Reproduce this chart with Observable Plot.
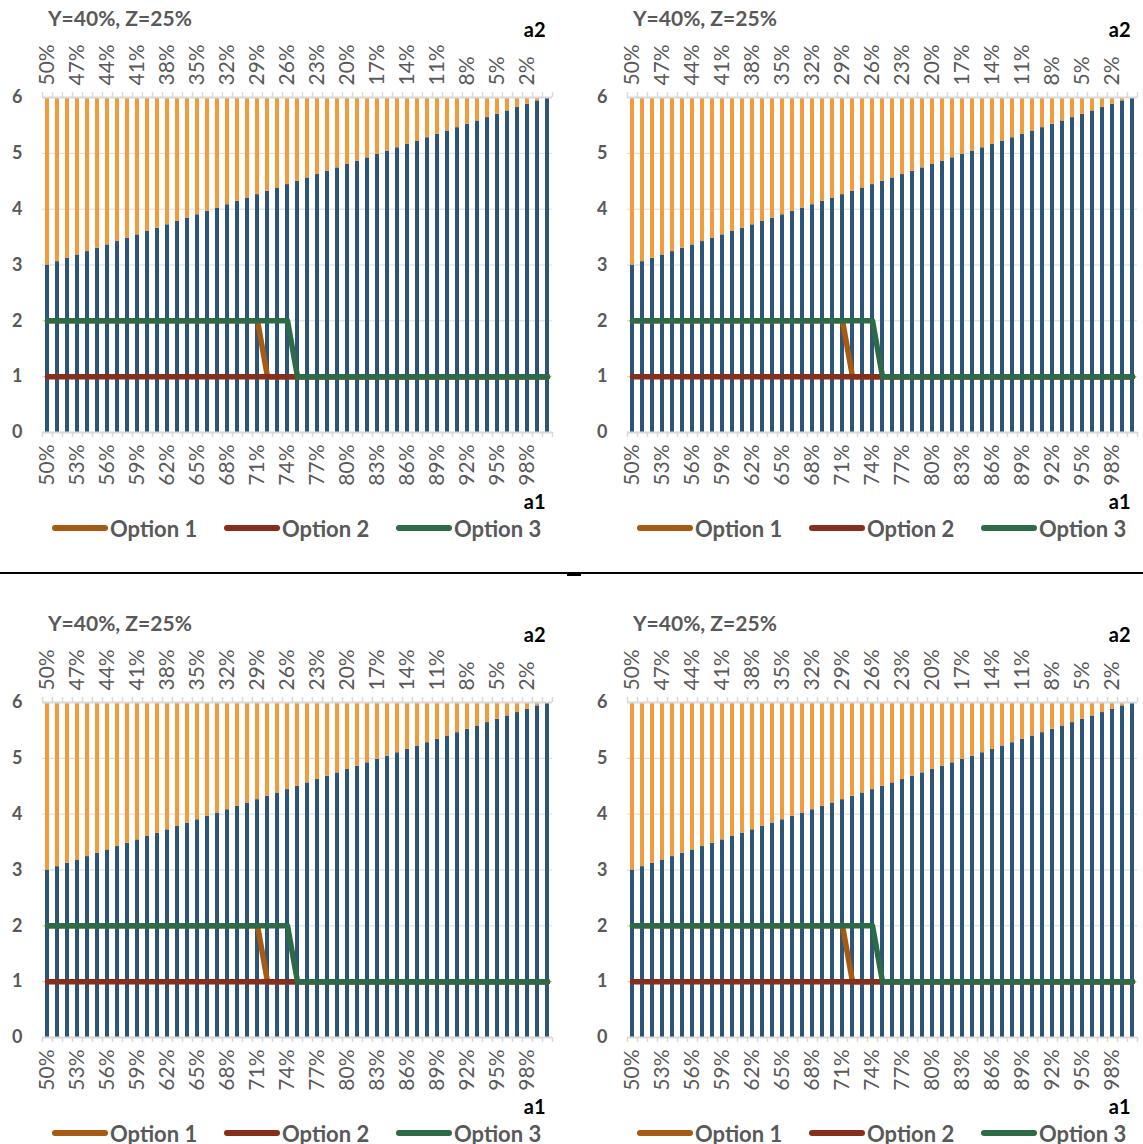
<!DOCTYPE html>
<html><head><meta charset="utf-8">
<script src="https://cdn.jsdelivr.net/npm/d3@7"></script>
<script src="https://cdn.jsdelivr.net/npm/@observablehq/plot@0.6"></script>
<style>
html,body{margin:0;padding:0;background:#fff;}
body{width:1143px;height:1144px;position:relative;overflow:hidden;font-family:Lato,"Noto Sans",sans-serif;}
.panel{position:absolute;width:570px;height:560px;}
.panel svg{position:absolute;left:0;top:0;overflow:visible;}
.title{position:absolute;left:48px;top:5px;font-weight:700;font-size:21px;color:#595959;white-space:nowrap;z-index:2;}
.legend{position:absolute;top:514px;left:0;width:570px;height:28px;}
.item{position:absolute;top:0;display:flex;align-items:center;height:28px;font-weight:700;font-size:22px;color:#595959;white-space:nowrap;}
.sw{width:56px;height:6px;border-radius:3px;margin-right:2px;}
.divider{position:absolute;left:0;top:572px;width:1143px;height:2px;background:#000;}
.bump{position:absolute;left:567px;top:574px;width:14px;height:2px;background:#000;}
</style></head><body>
<script>
// ---- data ----
const a1Labels = ["50%","51%","52%","53%","54%","55%","56%","57%","58%","59%","60%","61%","62%","63%","64%","65%","66%","67%","68%","69%","70%","71%","72%","73%","74%","75%","76%","77%","78%","79%","80%","81%","82%","83%","84%","85%","86%","87%","88%","89%","90%","91%","92%","93%","94%","95%","96%","97%","98%","99%","100%"];
const a2Labels = ["50%","49%","48%","47%","46%","45%","44%","43%","42%","41%","40%","39%","38%","37%","36%","35%","34%","33%","32%","31%","30%","29%","28%","27%","26%","25%","24%","23%","22%","21%","20%","19%","18%","17%","16%","15%","14%","13%","12%","11%","10%","9%","8%","7%","6%","5%","4%","3%","2%","1%","0%"];
const lowerValues = [3.00,3.06,3.12,3.18,3.24,3.30,3.36,3.42,3.48,3.54,3.60,3.66,3.72,3.78,3.84,3.90,3.96,4.02,4.08,4.14,4.20,4.26,4.32,4.38,4.44,4.50,4.56,4.62,4.68,4.74,4.80,4.86,4.92,4.98,5.04,5.10,5.16,5.22,5.28,5.34,5.40,5.46,5.52,5.58,5.64,5.70,5.76,5.82,5.88,5.94,6.00];
const upperValues = [3.00,2.94,2.88,2.82,2.76,2.70,2.64,2.58,2.52,2.46,2.40,2.34,2.28,2.22,2.16,2.10,2.04,1.98,1.92,1.86,1.80,1.74,1.68,1.62,1.56,1.50,1.44,1.38,1.32,1.26,1.20,1.14,1.08,1.02,0.96,0.90,0.84,0.78,0.72,0.66,0.60,0.54,0.48,0.42,0.36,0.30,0.24,0.18,0.12,0.06,0.00];
const option1 = [2,2,2,2,2,2,2,2,2,2,2,2,2,2,2,2,2,2,2,2,2,2,1,1,1,1,1,1,1,1,1,1,1,1,1,1,1,1,1,1,1,1,1,1,1,1,1,1,1,1,1];
const option2 = [1,1,1,1,1,1,1,1,1,1,1,1,1,1,1,1,1,1,1,1,1,1,1,1,1,1,1,1,1,1,1,1,1,1,1,1,1,1,1,1,1,1,1,1,1,1,1,1,1,1,1];
const option3 = [2,2,2,2,2,2,2,2,2,2,2,2,2,2,2,2,2,2,2,2,2,2,2,2,2,1,1,1,1,1,1,1,1,1,1,1,1,1,1,1,1,1,1,1,1,1,1,1,1,1,1];
const seriesNames = ["Option 1","Option 2","Option 3"];
const yTicks = [0,1,2,3,4,5,6];
const panelTitles = ["Y=40%, Z=25%","Y=40%, Z=25%","Y=40%, Z=25%","Y=40%, Z=25%"];
const xAxisTitle = "a1";
const topAxisTitle = "a2";

// ---- style ----
const BAR_LOWER = "#2D5578", BAR_UPPER = "#F09C3C";
const LINE_COLORS = ["#A65A12", "#862F1C", "#2D6B47"];
const GRID = "#d9d9d9", TEXT = "#595959";
const panelOffsets = [[0,0],[585,0],[0,605],[585,605]];
const W = 570, H = 520, MT = 97, MB = 88, ML = 42, MR = 18;
const tickEvery = 3;

const seriesValues = [option1, option2, option3];
const stacked = a1Labels.flatMap((a, i) => [
  {a1: a, part: "lower", v: lowerValues[i]},
  {a1: a, part: "upper", v: upperValues[i]}
]);
const labelTicks = a1Labels.filter((d, i) => i % tickEvery === 0);
const a2Of = new Map(a1Labels.map((d, i) => [d, a2Labels[i]]));
const band = (W - ML - MR) / a1Labels.length;
const tl = 5 / ((H - MT - MB) / 6);

function makeChart() {
  const tickStyle = {stroke: GRID, strokeWidth: 1.5};
  const lastCat = [a1Labels[a1Labels.length - 1]];
  return Plot.plot({
    width: W, height: H, marginTop: MT, marginBottom: MB, marginLeft: ML, marginRight: MR,
    style: {fontFamily: "Lato, 'Noto Sans', sans-serif", background: "transparent", overflow: "visible"},
    x: {type: "band", domain: a1Labels, padding: 0},
    y: {domain: [0, 6]},
    color: {type: "ordinal", domain: ["lower", "upper"], range: [BAR_LOWER, BAR_UPPER]},
    marks: [
      Plot.ruleY(yTicks.slice(1, -1), {stroke: GRID, strokeWidth: 1}),
      Plot.barY(stacked, {x: "a1", y: "v", fill: "part", insetLeft: 3, insetRight: 3}),
      Plot.ruleY([0, 6], {stroke: GRID, strokeWidth: 2}),
      Plot.ruleX(a1Labels, {x: d => d, dx: -band / 2, y1: 0, y2: -tl, ...tickStyle}),
      Plot.ruleX(lastCat, {x: d => d, dx: band / 2, y1: 0, y2: -tl, ...tickStyle}),
      Plot.ruleX(a1Labels, {x: d => d, dx: -band / 2, y1: 6, y2: 6 + tl, ...tickStyle}),
      Plot.ruleX(lastCat, {x: d => d, dx: band / 2, y1: 6, y2: 6 + tl, ...tickStyle}),
      ...seriesValues.map((vals, k) =>
        Plot.lineY(vals, {x: (d, i) => a1Labels[i], y: d => d, stroke: LINE_COLORS[k], strokeWidth: 5.5})
      ),
      Plot.axisX(labelTicks, {anchor: "bottom", label: null, tickSize: 0, tickPadding: 12, tickRotate: -90, fontSize: 21, fill: TEXT}),
      Plot.axisX(labelTicks, {anchor: "top", label: null, tickSize: 0, tickPadding: 12, tickRotate: -90, tickFormat: d => a2Of.get(d), fontSize: 21, fill: TEXT}),
      Plot.axisY(yTicks, {anchor: "left", label: null, tickSize: 0, tickPadding: 20, tickFormat: d3.format("d"), fontSize: 18, fontWeight: "bold", fill: TEXT}),
      Plot.text([topAxisTitle], {frameAnchor: "top-right", text: d => d, dx: -7, dy: -67, textAnchor: "end", lineAnchor: "middle", fontSize: 20, fontWeight: "bold", fill: "#000"}),
      Plot.text([xAxisTitle], {frameAnchor: "bottom-right", text: d => d, dx: -7, dy: 70, textAnchor: "end", lineAnchor: "middle", fontSize: 20, fontWeight: "bold", fill: "#000"})
    ]
  });
}

const legendLefts = [52, 224, 396];
panelOffsets.forEach(([x, y], p) => {
  const panel = document.createElement("div");
  panel.className = "panel";
  panel.style.left = x + "px";
  panel.style.top = y + "px";
  panel.appendChild(makeChart());
  const title = document.createElement("div");
  title.className = "title";
  title.textContent = panelTitles[p];
  panel.appendChild(title);
  const legend = document.createElement("div");
  legend.className = "legend";
  seriesNames.forEach((name, k) => {
    const item = document.createElement("div");
    item.className = "item";
    item.style.left = legendLefts[k] + "px";
    const sw = document.createElement("span");
    sw.className = "sw";
    sw.style.background = LINE_COLORS[k];
    const tx = document.createElement("span");
    tx.textContent = name;
    item.appendChild(sw);
    item.appendChild(tx);
    legend.appendChild(item);
  });
  panel.appendChild(legend);
  document.body.appendChild(panel);
});
const div = document.createElement("div"); div.className = "divider"; document.body.appendChild(div);
const bump = document.createElement("div"); bump.className = "bump"; document.body.appendChild(bump);
</script>
</body></html>
